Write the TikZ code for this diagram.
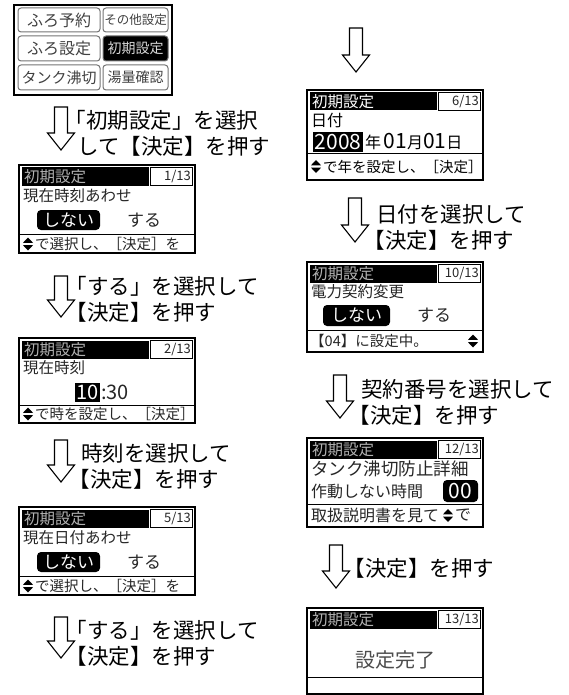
\documentclass[tikz,border=0pt]{standalone}
\usepackage{fontspec}
\setmainfont{Noto Sans CJK JP}
\newcommand\fsz[1]{\fontsize{#1}{#1}\selectfont}
\newcommand\obr{\hspace*{-0.58em}}
\tikzset{
  lbl/.style={anchor=west, inner sep=0pt, align=left, font=\fontsize{21.5}{26}\selectfont},
  lcdtxt/.style={anchor=west, inner sep=0pt, text=black!85},
  blk/.style={line width=1.1pt, line join=miter, fill=white},
  lcdframe/.style={draw, line width=1.6pt},
  sep/.style={line width=1pt},
  pagebox/.style={draw, line width=0.8pt},
  btn/.style={draw=black!55, line width=1pt, rounded corners=3pt},
  btntxt/.style={inner sep=0pt, text=black!75},
}
\newcommand\dnarrow[3]{\draw[blk] (#1-6.5,#2) -- (#1+6.5,#2) -- (#1+6.5,#3-17) -- (#1+13.5,#3-17) -- (#1,#3) -- (#1-13.5,#3-17) -- (#1-6.5,#3-17) -- cycle;}
\newcommand\updown[2]{\fill (#1-5,#2-1.2) -- (#1+5,#2-1.2) -- (#1,#2-6.5) -- cycle; \fill (#1-5,#2+1.2) -- (#1+5,#2+1.2) -- (#1,#2+6.5) -- cycle;}
\newcommand\lcdhead[4]{%
  \fill[black] (2.5,2.5) rectangle (130,20.5);
  \draw[pagebox] (131.5,2.5) rectangle (173.5,20.5);
  \node[lcdtxt, anchor=east, font=\fsz{13}] (#1p) at (172,11.5) {#3};
  \node[lcdtxt, text=#4, font=\fsz{15.5}] (#1t) at (5,11.5) {初期設定};
  \draw[lcdframe] (0,0) rectangle (176,#2);}
\begin{document}
\begin{tikzpicture}[x=1pt,y=-1pt]
\useasboundingbox (0,0) rectangle (568,695);

% ---------- menu ----------
\begin{scope}[shift={(14,5)}]
  \draw[btn] (4,3) rectangle (86,27);
  \draw[btn] (4,31) rectangle (86,56);
  \draw[btn] (4,60) rectangle (86,85);
  \draw[btn] (89,3) rectangle (154,27);
  \draw[btn, fill=black] (89,31) rectangle (154,56);
  \draw[btn] (89,60) rectangle (154,85);
  \node[btntxt, font=\fsz{16}] (m1) at (45,15) {ふろ予約};
  \node[btntxt, font=\fsz{16}] (m2) at (45,43.5) {ふろ設定};
  \node[btntxt, font=\fsz{15}] (m3) at (45,72.5) {タンク沸切};
  \node[btntxt, font=\fsz{12.5}] (m4) at (121.5,15) {その他設定};
  \node[btntxt, font=\fsz{14}, text=black!15] (m5) at (121.5,43.5) {初期設定};
  \node[btntxt, font=\fsz{14}] (m6) at (121.5,72.5) {湯量確認};
  \draw[lcdframe] (0,0) rectangle (158,90);
\end{scope}

% ---------- left screens ----------
\begin{scope}[shift={(19,165)}]
  \lcdhead{a}{88}{1/13}{black!30}
  \node[lcdtxt, font=\fsz{15.5}] (a2) at (4,31) {現在時刻あわせ};
  \fill[black, rounded corners=4pt] (18,45) rectangle (81,65);
  \node[lcdtxt, anchor=center, text=white, font=\fsz{17}] (a3) at (49.5,55) {しない};
  \node[lcdtxt, font=\fsz{17}] (a4) at (108,55) {する};
  \draw[sep] (0,69) -- (176,69);
  \updown{9}{79}
  \node[lcdtxt, font=\fsz{14.5}] (a5) at (16,79) {で選択し、［決定］を};
\end{scope}

\begin{scope}[shift={(19,338)}]
  \lcdhead{b}{85}{2/13}{black!30}
  \node[lcdtxt, font=\fsz{15.5}] (b2) at (4,30) {現在時刻};
  \fill[black] (56,45) rectangle (81,64);
  \node[lcdtxt, anchor=center, text=white, font=\fsz{20}] (b3) at (68.5,54.5) {10};
  \node[lcdtxt, font=\fsz{20}] (b4) at (82,54.5) {:30};
  \draw[sep] (0,67) -- (176,67);
  \updown{9}{76}
  \node[lcdtxt, font=\fsz{14.5}] (b5) at (16,76) {で時を設定し、［決定］};
\end{scope}

\begin{scope}[shift={(19,507)}]
  \lcdhead{c}{88}{5/13}{black!30}
  \node[lcdtxt, font=\fsz{15.5}] (c2) at (4,31) {現在日付あわせ};
  \fill[black, rounded corners=4pt] (18,45) rectangle (81,65);
  \node[lcdtxt, anchor=center, text=white, font=\fsz{17}] (c3) at (49.5,55) {しない};
  \node[lcdtxt, font=\fsz{17}] (c4) at (108,55) {する};
  \draw[sep] (0,69) -- (176,69);
  \updown{9}{79}
  \node[lcdtxt, font=\fsz{14.5}] (c5) at (16,79) {で選択し、［決定］を};
\end{scope}

% ---------- right screens ----------
\begin{scope}[shift={(307,90)}]
  \lcdhead{d}{90}{6/13}{white}
  \node[lcdtxt, text=black, font=\fsz{16}] (d2) at (4,30.5) {日付};
  \fill[black] (6,42) rectangle (56,62);
  \node[lcdtxt, anchor=center, text=white, font=\fsz{21}] (d3) at (31,52) {2008};
  \node[lcdtxt, text=black, font=\fsz{16}] (d4) at (58,52) {年\,{\fsz{21}01}月{\fsz{21}01}日};
  \draw[sep] (0,64) -- (176,64);
  \updown{9}{76.5}
  \node[lcdtxt, text=black, font=\fsz{14.5}] (d5) at (16,76.5) {で年を設定し、［決定］};
\end{scope}

\begin{scope}[shift={(307,262)}]
  \lcdhead{e}{90}{10/13}{black!30}
  \node[lcdtxt, font=\fsz{15.5}] (e2) at (4,30) {電力契約変更};
  \fill[black, rounded corners=4pt] (16,43) rectangle (83,64);
  \node[lcdtxt, anchor=center, text=white, font=\fsz{17}] (e3) at (49.5,53.5) {しない};
  \node[lcdtxt, font=\fsz{17}] (e4) at (110,53.5) {する};
  \draw[sep] (0,68) -- (176,68);
  \node[lcdtxt, font=\fsz{14.5}] (e5) at (3,79) {【04】に設定中。};
  \updown{166}{79}
\end{scope}

\begin{scope}[shift={(307,438)}]
  \lcdhead{f}{89}{12/13}{black!30}
  \node[lcdtxt, font=\fsz{17.5}] (f2) at (4,30.5) {タンク沸切防止詳細};
  \node[lcdtxt, font=\fsz{16}] (f3) at (4,53) {作動しない時間};
  \fill[black, rounded corners=4pt] (136,42) rectangle (171,64);
  \node[lcdtxt, anchor=center, text=white, font=\fsz{21}] (f4) at (153.5,53) {00};
  \draw[sep] (0,66.5) -- (176,66.5);
  \node[lcdtxt, font=\fsz{16}] (f5) at (4,77.5) {取扱説明書を見て};
  \updown{141}{77.5}
  \node[lcdtxt, font=\fsz{16}] (f6) at (148,77.5) {で};
\end{scope}

\begin{scope}[shift={(307,608)}]
  \lcdhead{g}{86}{13/13}{black!30}
  \node[lcdtxt, anchor=center, text=black!70, font=\fsz{20}] (g2) at (88,52) {設定完了};
  \draw[sep] (0,69) -- (176,69);
\end{scope}

% ---------- arrows ----------
\dnarrow{61}{107}{150}
\dnarrow{61}{276}{317}
\dnarrow{61}{440}{482}
\dnarrow{61}{617}{658}
\dnarrow{356}{28}{72}
\dnarrow{355}{198}{242}
\dnarrow{340}{375}{418}
\dnarrow{336}{545}{588}

% ---------- labels ----------
\node[lbl] (t1) at (77,133) {\obr「初期設定」を選択\\して【決定】を押す};
\node[lbl] (t2) at (78,299) {\obr「する」を選択して\\\obr【決定】を押す};
\node[lbl] (t3) at (81,466) {時刻を選択して\\\obr【決定】を押す};
\node[lbl] (t4) at (78,643) {\obr「する」を選択して\\\obr【決定】を押す};
\node[lbl] (r1) at (376,227) {日付を選択して\\\obr【決定】を押す};
\node[lbl] (r2) at (361,402) {契約番号を選択して\\\obr【決定】を押す};
\node[lbl] (r3) at (356,568) {\obr【決定】を押す};
\end{tikzpicture}
\end{document}
